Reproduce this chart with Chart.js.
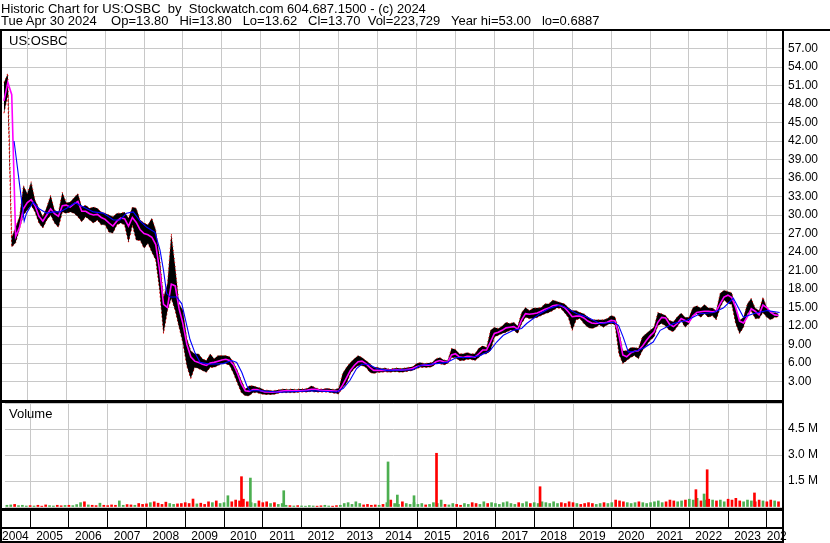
<!DOCTYPE html>
<html>
<head>
<meta charset="utf-8">
<title>Historic Chart for US:OSBC</title>
<script src="https://cdn.jsdelivr.net/npm/chart.js@4.4.1/dist/chart.umd.min.js"></script>
<style>
    body { margin: 0; background: #fff; }
    #wrap { position: relative; width: 830px; height: 543px; overflow: hidden; background: #fff;
            font-family: 'Liberation Sans', Arial, sans-serif; }
    canvas { position: absolute; left: 0; }
    .txt { position: absolute; font-size: 13px; color: #000; white-space: pre; line-height: 15px; }
    .ln { position: absolute; background: #000; }
</style>
</head>
<body>
<div id="wrap">
    <canvas id="priceChart" width="830" height="400" style="top:0"></canvas>
    <canvas id="volumeChart" width="830" height="140" style="top:403px"></canvas>

    <div class="txt" style="left:1px;top:3px;line-height:12px">Historic Chart for US:OSBC  by  Stockwatch.com 604.687.1500 - (c) 2024</div>
    <div class="txt" style="left:1px;top:15px;line-height:12px">Tue Apr 30 2024    Op=13.80   Hi=13.80   Lo=13.62   Cl=13.70  Vol=223,729   Year hi=53.00   lo=0.6887</div>
    <div class="txt" style="left:9px;top:33px">US:OSBC</div>
    <div class="txt" style="left:9px;top:406px">Volume</div>

    <div class="ln" style="left:0;top:29px;width:830px;height:2px"></div>
    <div class="ln" style="left:0;top:29px;width:2px;height:514px"></div>
    <div class="ln" style="left:782px;top:29px;width:2px;height:514px"></div>
    <div class="ln" style="left:0;top:400px;width:784px;height:3px"></div>
    <div class="ln" style="left:0;top:508px;width:784px;height:3px"></div>
    <div class="ln" style="left:0;top:527px;width:784px;height:2px"></div>
    <div class="ln" style="left:0;top:541px;width:784px;height:2px"></div>
    <div style="position:absolute;left:787px;top:529px;width:43px;height:14px;background:#fff"></div>
</div>

<script>
// x axis runs in decimal years
const X_MIN = 2004.35;
const X_MAX = 2024.39;
const DATE_START = 2004.4;
const DATE_STEP = 0.1;

const yearStarts = [2005, 2006, 2007, 2008, 2009, 2010, 2011, 2012, 2013, 2014,
    2015, 2016, 2017, 2018, 2019, 2020, 2021, 2022, 2023, 2024];
const yearLabels = ['2004', '2005', '2006', '2007', '2008', '2009', '2010', '2011', '2012', '2013', '2014',
    '2015', '2016', '2017', '2018', '2019', '2020', '2021', '2022', '2023', '2024'];
const priceTicks = [0, 3, 6, 9, 12, 15, 18, 21, 24, 27, 30, 33, 36, 39, 42, 45, 48, 51, 54, 57, 60];
const volumeTicks = [0, 1.5, 3.0, 4.5, 6.0];

// price range per sample (every 0.1 year from 2004.4)
const highs = [
    51.5, 53.0, 26.4, 28.0, 29.8, 34.8,
    33.5, 35.4, 32.4, 31.1, 29.7, 31.3, 33.2, 30.8, 30.5, 33.7,
    32.0, 32.1, 32.8, 33.5, 31.3, 31.6, 31.1, 31.3, 31.1, 30.5,
    30.3, 30.0, 29.7, 30.3, 30.3, 30.5, 29.5, 31.3, 31.1, 29.2,
    28.7, 28.4, 29.5, 27.6, 23.2, 16.7, 18.9, 27.0, 21.6, 15.6,
    14.5, 10.0, 8.0, 7.5, 7.5, 6.7, 6.4, 7.5, 6.7, 7.2,
    7.2, 7.2, 7.0, 6.1, 4.8, 3.2, 1.8, 2.3, 2.3, 2.1,
    1.9, 1.6, 1.6, 1.5, 1.6, 1.7, 1.8, 1.7, 1.8, 1.7,
    1.8, 1.8, 1.9, 2.3, 2.0, 1.8, 1.8, 1.9, 1.8, 1.7,
    1.9, 4.3, 5.3, 6.1, 6.7, 7.2, 6.9, 6.4, 5.9, 5.3,
    5.3, 5.1, 5.2, 5.0, 5.1, 5.2, 5.1, 5.2, 5.3, 5.4,
    5.9, 6.1, 5.9, 6.0, 6.1, 6.7, 6.9, 6.5, 6.4, 8.4,
    8.2, 7.5, 7.5, 7.7, 7.5, 7.5, 8.4, 8.8, 8.5, 11.3,
    11.8, 11.6, 12.0, 12.6, 12.4, 12.6, 12.0, 14.2, 15.0, 14.5,
    14.9, 14.9, 15.0, 15.6, 15.6, 16.2, 16.0, 15.8, 15.6, 15.0,
    14.5, 14.5, 14.2, 14.0, 13.5, 13.0, 13.0, 13.0, 13.0, 13.2,
    13.7, 13.5, 11.3, 8.0, 8.0, 8.5, 8.5, 8.4, 10.2, 10.8,
    11.3, 11.8, 14.2, 14.0, 13.7, 12.9, 12.7, 13.5, 14.1, 13.4,
    13.4, 15.0, 15.3, 14.9, 15.5, 14.9, 14.9, 14.5, 17.3, 17.8,
    17.6, 17.4, 15.0, 12.9, 13.4, 15.6, 16.5, 14.9, 14.5, 16.7,
    15.0, 14.2, 14.2, 14.0
];
const lows = [
    46.5, 49.5, 24.8, 25.5, 27.8, 30.0,
    30.8, 31.6, 30.5, 28.7, 27.9, 29.2, 30.0, 28.7, 28.0, 30.5,
    30.3, 30.5, 30.3, 29.7, 28.9, 29.7, 29.2, 28.7, 29.2, 28.4,
    28.4, 27.2, 27.1, 28.4, 28.7, 28.4, 25.6, 28.4, 25.9, 25.9,
    24.6, 25.4, 24.0, 22.7, 17.8, 10.8, 14.5, 16.5, 14.5, 11.8,
    9.2, 5.5, 3.5, 5.3, 5.1, 4.8, 4.5, 5.3, 5.3, 5.6,
    5.9, 5.9, 5.6, 4.3, 2.7, 1.2, 0.7, 0.7, 1.2, 1.2,
    1.0, 0.9, 0.9, 0.9, 1.0, 1.2, 1.2, 1.2, 1.2, 1.2,
    1.3, 1.3, 1.3, 1.4, 1.3, 1.3, 1.3, 1.3, 1.2, 1.1,
    1.0, 2.0, 2.7, 4.3, 5.1, 5.6, 5.6, 5.3, 4.5, 4.3,
    4.5, 4.5, 4.6, 4.5, 4.6, 4.6, 4.5, 4.6, 4.7, 4.8,
    5.1, 5.3, 5.3, 5.3, 5.4, 5.9, 5.9, 5.7, 5.9, 6.9,
    6.9, 6.4, 6.4, 6.6, 6.6, 6.4, 6.9, 7.5, 7.5, 8.0,
    10.2, 10.5, 10.8, 11.0, 11.3, 11.3, 10.8, 12.4, 13.4, 13.2,
    13.2, 13.4, 13.7, 14.0, 14.2, 14.5, 14.9, 14.9, 14.2, 13.4,
    11.3, 13.0, 13.2, 12.4, 11.8, 11.6, 11.8, 12.2, 11.8, 12.2,
    12.4, 12.2, 7.5, 5.9, 6.4, 6.9, 7.2, 6.7, 8.0, 8.8,
    9.7, 10.2, 12.1, 12.4, 12.0, 11.3, 11.1, 11.9, 12.9, 11.8,
    12.4, 13.7, 14.0, 13.4, 14.0, 13.4, 13.7, 13.0, 15.0, 16.2,
    15.7, 15.5, 12.4, 10.8, 11.8, 14.0, 14.5, 13.2, 13.2, 14.2,
    13.4, 13.0, 13.4, 13.5
];

// short moving average (magenta), same dates
const shortAvg = [
    48.5, 51.5, 49.5, 26.5, 28.0, 31.0,
    32.0, 32.5, 31.5, 29.8, 29.0, 30.0, 31.0, 30.2, 29.8, 31.5,
    31.6, 31.3, 31.8, 32.2, 30.6, 30.6, 30.2, 30.0, 30.1, 29.6,
    29.3, 28.7, 28.2, 29.0, 29.5, 29.4, 28.2, 29.6, 28.8, 27.6,
    27.0, 26.8, 26.4, 25.2, 21.0, 15.5, 15.0, 18.8, 18.5, 14.8,
    12.3, 9.0, 7.0, 6.3, 6.1, 5.8, 5.6, 6.0, 6.1, 6.3,
    6.5, 6.6, 6.4, 5.7, 4.3, 2.6, 1.5, 1.4, 1.7, 1.7,
    1.5, 1.3, 1.3, 1.25, 1.3, 1.4, 1.5, 1.5, 1.5, 1.5,
    1.5, 1.55, 1.6, 1.75, 1.75, 1.6, 1.55, 1.55, 1.5, 1.45,
    1.4, 2.4, 3.6, 4.8, 5.6, 6.2, 6.3, 5.9, 5.3, 4.8,
    4.8, 4.8, 4.85, 4.8, 4.85, 4.9, 4.85, 4.9, 5.0, 5.1,
    5.4, 5.6, 5.65, 5.65, 5.75, 6.2, 6.4, 6.2, 6.15, 7.3,
    7.5, 7.0, 6.9, 7.1, 7.05, 6.95, 7.5, 8.1, 8.1, 9.4,
    10.8, 11.0, 11.3, 11.7, 11.8, 11.9, 11.5, 13.0, 14.0, 13.9,
    14.0, 14.1, 14.4, 14.7, 14.9, 15.3, 15.4, 15.3, 15.0, 14.3,
    13.5, 13.6, 13.6, 13.3, 12.8, 12.5, 12.4, 12.5, 12.5, 12.6,
    12.9, 12.8, 10.5, 7.3, 7.0, 7.6, 7.9, 8.0, 8.7, 9.6,
    10.4, 11.0, 12.6, 13.4, 13.3, 12.3, 11.9, 12.4, 13.2, 12.9,
    12.6, 13.6, 14.2, 14.3, 14.4, 14.4, 14.3, 14.4, 15.6, 16.7,
    17.0, 16.6, 15.0, 12.8, 12.5, 13.5, 14.8, 14.4, 13.8, 15.4,
    15.0, 14.2, 13.8, 13.7
];

// long moving average (blue)
const longAvgYears = [
    2004.66, 2004.74, 2004.80, 2004.86, 2004.92, 2004.98, 2005.15, 2005.28, 2005.50, 2005.67,
    2005.84, 2006.01, 2006.23, 2006.44, 2006.70, 2006.95, 2007.21, 2007.38, 2007.55, 2007.72,
    2007.90, 2008.07, 2008.28, 2008.41, 2008.50, 2008.58, 2008.67, 2008.84, 2008.97, 2009.05,
    2009.18, 2009.31, 2009.44, 2009.70, 2010.03, 2010.25, 2010.38, 2010.51, 2010.64, 2010.72,
    2010.98, 2011.49, 2012.34, 2012.95, 2013.12, 2013.29, 2013.46, 2013.59, 2013.76, 2013.98,
    2014.23, 2014.91, 2015.09, 2015.78, 2016.03, 2016.37, 2016.63, 2016.89, 2017.06, 2017.23,
    2017.49, 2017.70, 2017.83, 2018.17, 2018.43, 2018.69, 2018.86, 2019.12, 2019.37, 2019.71,
    2020.06, 2020.19, 2020.31, 2020.44, 2020.57, 2020.83, 2021.08, 2021.26, 2021.60, 2021.94,
    2022.28, 2022.63, 2022.88, 2023.14, 2023.40, 2023.65, 2024.01, 2024.33
];
const longAvg = [
    42.0, 38.0, 35.0, 32.0, 29.0, 30.3, 32.1, 31.1, 30.3, 30.5,
    30.5, 31.1, 32.0, 31.3, 30.5, 30.3, 29.2, 29.2, 30.3, 30.5,
    29.0, 28.0, 27.2, 24.3, 21.0, 17.3, 16.7, 16.7, 15.6, 13.4,
    9.8, 7.6, 6.1, 5.8, 5.9, 6.4, 6.1, 4.5, 2.3, 1.5,
    1.5, 1.25, 1.5, 1.3, 1.9, 3.2, 5.1, 5.8, 5.8, 5.1,
    4.8, 4.9, 5.6, 6.1, 6.9, 6.9, 7.2, 8.0, 9.4, 10.5,
    11.3, 11.6, 12.4, 14.0, 14.9, 15.4, 14.9, 14.0, 13.5, 12.4,
    12.6, 12.1, 10.2, 7.8, 7.8, 8.4, 9.4, 11.3, 12.4, 12.9,
    14.0, 14.2, 14.9, 16.5, 13.4, 14.0, 14.5, 14.2
];

// volume in millions, same dates as the price samples
const volumes = [
    0.10, 0.12, 0.15, 0.08, 0.10, 0.06,
    0.08, 0.06, 0.10, 0.05, 0.12, 0.08, 0.06, 0.10, 0.07, 0.09,
    0.10, 0.08, 0.14, 0.25, 0.30, 0.12, 0.10, 0.08, 0.22, 0.10,
    0.08, 0.12, 0.10, 0.35, 0.10, 0.14, 0.12, 0.10, 0.20, 0.15,
    0.18, 0.25, 0.30, 0.22, 0.15, 0.28, 0.20, 0.15, 0.18, 0.20,
    0.25, 0.20, 0.46, 0.18, 0.22, 0.15, 0.30, 0.25, 0.35, 0.20,
    0.25, 0.65, 0.30, 0.40, 0.35, 0.45, 0.30, 0.25, 0.20, 0.35,
    0.25, 0.30, 0.20, 0.25, 0.15, 0.20, 0.10, 0.08, 0.06, 0.08,
    0.06, 0.05, 0.08, 0.06, 0.05, 0.07, 0.10, 0.06, 0.05, 0.08,
    0.10, 0.20, 0.25, 0.15, 0.30, 0.20, 0.12, 0.15, 0.10, 0.12,
    0.10, 0.15, 0.25, 0.40, 0.20, 0.15, 0.30, 0.20, 0.15, 0.25,
    0.15, 0.20, 0.12, 0.15, 0.25, 0.20, 0.40, 0.15, 0.12, 0.20,
    0.15, 0.10, 0.20, 0.15, 0.25, 0.20, 0.15, 0.30, 0.20, 0.25,
    0.20, 0.15, 0.25, 0.30, 0.20, 0.15, 0.25, 0.20, 0.30, 0.20,
    0.25, 0.20, 0.30, 0.25, 0.20, 0.30, 0.20, 0.25, 0.20, 0.30,
    0.25, 0.20, 0.15, 0.20, 0.25, 0.20, 0.15, 0.20, 0.25, 0.20,
    0.25, 0.40, 0.35, 0.30, 0.25, 0.20, 0.25, 0.30, 0.25, 0.20,
    0.25, 0.30, 0.35, 0.25, 0.30, 0.40, 0.35, 0.30, 0.35, 0.40,
    0.45, 0.40, 0.50, 0.35, 0.40, 0.45, 0.40, 0.35, 0.40, 0.30,
    0.45, 0.40, 0.50, 0.35, 0.30, 0.40, 0.35, 0.30, 0.40, 0.35,
    0.30, 0.40, 0.35, 0.30
];

// the big volume days
const spikeYears = [2010.45, 2010.68, 2011.54, 2014.23, 2014.47, 2014.90, 2015.48, 2018.15, 2022.17, 2022.38, 2022.46, 2023.68];
const spikeVolumes = [1.75, 1.67, 0.94, 2.6, 0.69, 0.65, 3.1, 1.17, 1.0, 0.75, 2.15, 0.81];
const spikeUp = [false, true, true, true, true, true, false, false, false, true, false, false];

const RED = '#ff0000';
const GREEN = '#4caf50';
const GRID = '#c8c8c8';

Chart.defaults.font.family = "'Liberation Sans', Arial, sans-serif";
Chart.defaults.font.size = 12;
Chart.defaults.color = '#000';

const dates = highs.map((_, i) => +(DATE_START + i * DATE_STEP).toFixed(2));

// labels sit in the middle of each year; the partial first/last years hug their gridline
const labelPos = yearLabels.map((label, i) => {
    const year = Number(label);
    if (i === 0) return yearStarts[0] - 0.38;
    if (i === yearLabels.length - 1) return year + 0.34;
    return year + 0.5;
});

function toPoints(xs, ys) {
    return xs.map((x, i) => ({x: x, y: ys[i]}));
}

function yearGrid(scale) {
    scale.ticks = yearStarts.map(v => ({value: v}));
}

function initPriceChart() {
    const ctx = document.getElementById('priceChart').getContext('2d');

    return new Chart(ctx, {
        type: 'line',
        data: {
            datasets: [
                {
                    label: 'long average',
                    data: toPoints(longAvgYears, longAvg),
                    borderColor: '#0000ff',
                    borderWidth: 1.1,
                    pointRadius: 0,
                    fill: false
                },
                {
                    label: 'short average',
                    data: toPoints(dates, shortAvg),
                    borderColor: '#ff00ff',
                    borderWidth: 1.6,
                    pointRadius: 0,
                    fill: false
                },
                {
                    label: 'high',
                    data: toPoints(dates, highs),
                    borderColor: RED,
                    backgroundColor: '#000',
                    borderWidth: 1,
                    borderDash: [1, 3],
                    pointRadius: 0,
                    fill: '+1'
                },
                {
                    label: 'low',
                    data: toPoints(dates, lows),
                    borderColor: RED,
                    borderWidth: 1,
                    borderDash: [2, 2],
                    pointRadius: 0,
                    fill: false
                }
            ]
        },
        options: {
            animation: false,
            responsive: false,
            devicePixelRatio: 1,
            layout: {padding: {left: 2, top: 30, right: 0, bottom: 0}},
            plugins: {legend: {display: false}, tooltip: {enabled: false}},
            scales: {
                x: {
                    type: 'linear',
                    min: X_MIN,
                    max: X_MAX,
                    grid: {color: GRID, drawTicks: false},
                    border: {display: false},
                    ticks: {display: false},
                    afterBuildTicks: yearGrid,
                    afterFit: (scale) => { scale.height = 0; }
                },
                y: {
                    type: 'linear',
                    position: 'right',
                    min: 0,
                    max: 60,
                    grid: {color: GRID, drawTicks: false},
                    border: {display: false},
                    ticks: {
                        autoSkip: false,
                        padding: 6,
                        callback: (value) => (value === 0 || value === 60) ? '' : value.toFixed(2)
                    },
                    afterBuildTicks: (scale) => { scale.ticks = priceTicks.map(v => ({value: v})); },
                    afterFit: (scale) => {
                        scale.width = 48;
                        scale.paddingTop = 0;
                        scale.paddingBottom = 0;
                    }
                }
            }
        }
    });
}

function initVolumeChart() {
    const ctx = document.getElementById('volumeChart').getContext('2d');

    // green when the price went up against the previous sample
    const volumeColors = dates.map((_, i) => {
        if (i === 0) return GREEN;
        return (highs[i] + lows[i]) >= (highs[i - 1] + lows[i - 1]) ? GREEN : RED;
    });

    return new Chart(ctx, {
        type: 'bar',
        data: {
            datasets: [
                {
                    label: 'big days',
                    data: toPoints(spikeYears, spikeVolumes.map(v => v * 1e6)),
                    backgroundColor: spikeUp.map(up => up ? GREEN : RED),
                    barThickness: 2,
                    grouped: false
                },
                {
                    label: 'volume',
                    data: toPoints(dates, volumes.map(v => v * 1e6)),
                    backgroundColor: volumeColors,
                    barThickness: 2,
                    grouped: false
                }
            ]
        },
        options: {
            animation: false,
            responsive: false,
            devicePixelRatio: 1,
            layout: {padding: {left: 2, top: 0, right: 0, bottom: 0}},
            plugins: {legend: {display: false}, tooltip: {enabled: false}},
            scales: {
                x: {
                    type: 'linear',
                    min: X_MIN,
                    max: X_MAX,
                    offset: false,
                    weight: 0,
                    grid: {color: GRID, offset: false, tickColor: '#000', tickLength: 20, tickWidth: 1},
                    border: {display: false},
                    ticks: {display: false},
                    afterBuildTicks: yearGrid,
                    afterFit: (scale) => { scale.height = 20; }
                },
                xl: {
                    type: 'linear',
                    position: 'bottom',
                    min: X_MIN,
                    max: X_MAX,
                    offset: false,
                    weight: 1,
                    grid: {display: false, drawTicks: false},
                    border: {display: false},
                    ticks: {
                        autoSkip: false,
                        maxRotation: 0,
                        minRotation: 0,
                        padding: 2,
                        callback: (value, index) => yearLabels[index]
                    },
                    afterBuildTicks: (scale) => { scale.ticks = labelPos.map(v => ({value: v})); },
                    afterFit: (scale) => { scale.height = 16; }
                },
                y: {
                    type: 'linear',
                    position: 'right',
                    min: 0,
                    max: 6e6,
                    grid: {color: GRID, drawTicks: false},
                    border: {display: false},
                    ticks: {
                        autoSkip: false,
                        padding: 6,
                        callback: (value) => (value === 0 || value === 6e6) ? '' : (value / 1e6).toFixed(1) + ' M'
                    },
                    afterBuildTicks: (scale) => { scale.ticks = volumeTicks.map(v => ({value: v * 1e6})); },
                    afterFit: (scale) => {
                        scale.width = 48;
                        scale.paddingTop = 0;
                        scale.paddingBottom = 0;
                    }
                }
            }
        }
    });
}

initPriceChart();
initVolumeChart();
</script>
</body>
</html>
